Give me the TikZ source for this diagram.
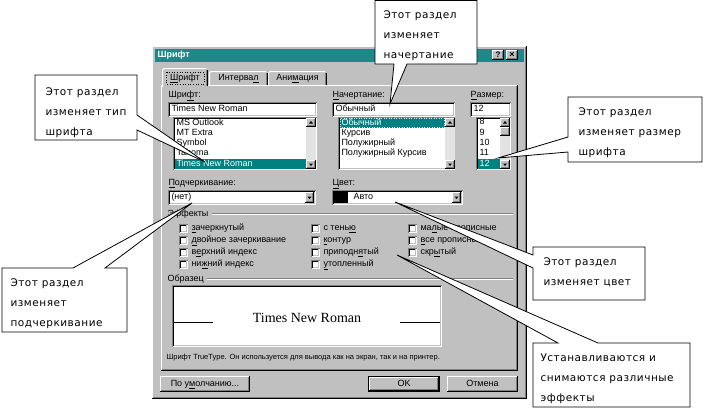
\documentclass[tikz,border=0pt]{standalone}
\usepackage{fontspec}
\setmainfont{Liberation Sans}
\newfontfamily\callfont[LetterSpace=5]{DejaVu Sans}
\newfontfamily\prevfont{Liberation Serif}
\definecolor{dlg}{RGB}{192,192,192}
\definecolor{dkg}{RGB}{128,128,128}
\definecolor{teal1}{RGB}{0,128,128}
\definecolor{titleteal}{RGB}{30,136,136}
\definecolor{track}{RGB}{226,226,226}
\newcommand{\mnem}[1]{\underline{#1}}
\newcommand{\raisedbox}[4]{%
 \fill[dlg] ({#1},{#2}) rectangle ({#3},{#4});
 \draw[white] ({#1+.5},{#4-1}) -- ({#1+.5},{#2+.5}) -- ({#3-1},{#2+.5});
 \draw[black] ({#1},{#4-.5}) -- ({#3-.5},{#4-.5}) -- ({#3-.5},{#2});
 \draw[dkg] ({#1+1},{#4-1.5}) -- ({#3-1.5},{#4-1.5}) -- ({#3-1.5},{#2+1});
}
\newcommand{\sunkbox}[4]{%
 \fill[white] ({#1},{#2}) rectangle ({#3},{#4});
 \draw[dkg] ({#1+.5},{#4}) -- ({#1+.5},{#2+.5}) -- ({#3},{#2+.5});
 \draw[black] ({#1+1.5},{#4-1}) -- ({#1+1.5},{#2+1.5}) -- ({#3-1},{#2+1.5});
 \draw[dlg] ({#1+1.5},{#4-1.5}) -- ({#3-1.5},{#4-1.5}) -- ({#3-1.5},{#2+1.5});
}
\newcommand{\arrowbtn}[5]{%
 \raisedbox{#1}{#2}{#3}{#4}
 \fill[black] ({(#1+#3)/2-2},{(#2+#4)/2-(#5)*1}) -- ({(#1+#3)/2+2},{(#2+#4)/2-(#5)*1}) -- ({(#1+#3)/2},{(#2+#4)/2+(#5)*1.5}) -- cycle;
}
\newcommand{\chk}[4]{%
 \sunkbox{#1}{#2-4.5}{#1+9}{#2+4.5}
 \node[lbl] (#3) at ({#1+12},{#2}) {#4};
}
\begin{document}
\begin{tikzpicture}[x=1pt,y=-1pt,line width=1pt,
 lbl/.style={font=\fontsize{9}{10}\selectfont, inner sep=0pt, anchor=west, text height=6.5pt, text depth=1.8pt},
 sel/.style={lbl,text=white},
 ctr/.style={lbl,anchor=center},
 small/.style={font=\fontsize{7.5}{9}\selectfont, inner sep=0pt, anchor=west},
 calltext/.style={font=\callfont\fontsize{10.5}{20}\selectfont, align=left, inner sep=0pt, anchor=north west},
 callout/.style={fill=white, draw=black, line width=0.8pt, line join=miter},
]
\useasboundingbox (0,0) rectangle (703,408);
\fill[white] (0,0) rectangle (703,408);

% ---------- dialog window ----------
\raisedbox{152}{46}{527}{399}
\fill[titleteal] (155,49) rectangle (524,62);
\node[lbl,text=white,font=\bfseries\fontsize{9}{10}\selectfont] (title) at (157,55.5) {Шрифт};
\raisedbox{492}{50}{504}{60}
\node[ctr,font=\bfseries\fontsize{8}{9}\selectfont] (qmark) at (498,55.5) {?};
\raisedbox{506}{50}{518}{60}
\node[ctr,font=\bfseries\fontsize{9}{9}\selectfont] (xmark) at (512,55.5) {×};

% ---------- tab panel ----------
\raisedbox{161}{85}{518}{371}
% tab 2
\fill[dlg] (209,71) rectangle (268,85);
\draw[white] (209.5,85) -- (209.5,73) -- (211,71.5) -- (266,71.5);
\draw[black] (267.5,73) -- (267.5,85);
\draw[dkg] (266.5,73) -- (266.5,85);
% tab 3
\fill[dlg] (268,71) rectangle (327,85);
\draw[white] (268.5,85) -- (268.5,73) -- (270,71.5) -- (325,71.5);
\draw[black] (326.5,73) -- (326.5,85);
\draw[dkg] (325.5,73) -- (325.5,85);
% tab 1 (active)
\fill[dlg] (162,68) rectangle (208,87);
\draw[white] (162.5,87) -- (162.5,70) -- (164,68.5) -- (206,68.5);
\draw[black] (207.5,70) -- (207.5,86);
\draw[dkg] (206.5,70) -- (206.5,86);
\draw[dotted,line width=0.6pt] (166,72) rectangle (204,84);
\node[ctr] (tab1) at (185,78) {\mnem{Ш}рифт};
\node[ctr] (tab2) at (238.5,78.5) {Интерва\mnem{л}};
\node[ctr] (tab3) at (297.5,78.5) {Ани\mnem{м}ация};

% ---------- font / style / size ----------
\node[lbl] (lfont) at (168,95) {Шри\mnem{ф}т:};
\node[lbl] (lstyle) at (332,95) {\mnem{Н}ачертание:};
\node[lbl] (lsize) at (470,95) {\mnem{Р}азмер:};

\sunkbox{168}{102}{317}{117}
\node[lbl] (tfont) at (171,109.5) {Times New Roman};
\sunkbox{332}{102}{455}{117}
\node[lbl] (tstyle) at (335,109.5) {Обычный};
\sunkbox{470}{102}{511}{117}
\node[lbl] (tsize) at (473,109.5) {12};

% font list
\sunkbox{173}{117}{317}{170}
\fill[track] (306,118) rectangle (316,169);
\arrowbtn{306}{118}{316}{127}{-1}
\arrowbtn{306}{160}{316}{169}{1}
\fill[teal1] (175,159) rectangle (306,169);
\node[lbl] (f1) at (176,123) {MS Outlook};
\node[lbl] (f2) at (176,133.5) {MT Extra};
\node[lbl] (f3) at (176,143.5) {Symbol};
\node[lbl] (f4) at (176,153.5) {Tahoma};
\node[sel] (f5) at (176,164) {Times New Roman};

% style list
\sunkbox{338}{117}{455}{170}
\fill[track] (445,118) rectangle (455,169);
\arrowbtn{445}{118}{455}{127}{-1}
\arrowbtn{445}{160}{455}{169}{1}
\fill[teal1] (340,118) rectangle (445,128);
\draw[dotted,white,line width=0.5pt] (340.5,118.5) rectangle (444.5,127.5);
\node[sel] (s1) at (341,123) {Обычный};
\node[lbl] (s2) at (341,133.5) {Курсив};
\node[lbl] (s3) at (341,143.5) {Полужирный};
\node[lbl] (s4) at (341,153.5) {Полужирный Курсив};

% size list
\sunkbox{476}{117}{511}{170}
\fill[track] (500,118) rectangle (510,169);
\arrowbtn{500}{118}{510}{127}{-1}
\raisedbox{500}{127}{510}{136}
\arrowbtn{500}{160}{510}{169}{1}
\fill[teal1] (478,159) rectangle (500,169);
\node[lbl] (z1) at (479,122.5) {8};
\node[lbl] (z2) at (479,133.5) {9};
\node[lbl] (z3) at (479,143.5) {10};
\node[lbl] (z4) at (479,153.5) {11};
\node[sel] (z5) at (479,164) {12};

% ---------- underline / colour ----------
\node[lbl] (lund) at (168,183) {\mnem{П}одчеркивание:};
\node[lbl] (lcol) at (332,183) {\mnem{Ц}вет:};
\sunkbox{168}{190}{316}{205}
\node[lbl] (tund) at (171,197.5) {(нет)};
\arrowbtn{305}{192}{314}{203}{1}
\sunkbox{332}{190}{463}{205}
\fill[black] (334,192) rectangle (348,203);
\node[lbl] (tcol) at (353,197.5) {Авто};
\arrowbtn{452}{192}{461}{203}{1}

% ---------- effects ----------
\node[lbl] (leff) at (167,214) {Эффекты};
\draw[dkg] (212,213.5) -- (513,213.5);
\draw[white] (212,214.5) -- (513,214.5);
\chk{179}{228}{e1}{\mnem{з}ачеркнутый}
\chk{179}{240}{e2}{\mnem{д}войное зачеркивание}
\chk{179}{252}{e3}{в\mnem{е}рхний индекс}
\chk{179}{264}{e4}{ни\mnem{ж}ний индекс}
\chk{311}{228}{e5}{с тень\mnem{ю}}
\chk{311}{240}{e6}{\mnem{к}онтур}
\chk{311}{252}{e7}{приподн\mnem{я}тый}
\chk{311}{264}{e8}{\mnem{у}топленный}
\chk{408}{228}{e9}{ма\mnem{л}ые прописные}
\chk{408}{240}{e10}{\mnem{в}се прописные}
\chk{408}{252}{e11}{скр\mnem{ы}тый}

% ---------- sample ----------
\node[lbl] (lsam) at (167,279) {Образец};
\draw[dkg] (207,278.5) -- (513,278.5);
\draw[white] (207,279.5) -- (513,279.5);
\sunkbox{172}{285}{442}{347}
\node[font=\prevfont\fontsize{14}{16}\selectfont, inner sep=0pt, anchor=base] (sample) at (307,322) {Times New Roman};
\draw[black] (174,322) -- (213,322);
\draw[black] (400,322) -- (440,322);
\node[small] (foot) at (166,358) {Шрифт TrueType. Он используется для вывода как на экран, так и на принтер.};

% ---------- buttons ----------
\raisedbox{160}{376}{250}{392}
\node[ctr] (bdef) at (205,384) {По у\mnem{м}олчанию...};
\draw[black] (368.5,376.5) rectangle (439.5,391.5);
\raisedbox{369}{377}{439}{391}
\node[ctr] (bok) at (404,384) {OK};
\raisedbox{447}{376}{518}{392}
\node[ctr] (bcancel) at (482.5,384) {Отмена};

% ---------- callouts ----------
\coordinate (tip1) at (390,104);
\coordinate (tip2) at (205,162);
\coordinate (tip3) at (192,203);
\coordinate (tip4) at (498,158);
\coordinate (tip5) at (395,202);
\coordinate (tip6) at (397,255);

\draw[callout] (375,0.5) -- (477,0.5) -- (477,64) -- (407,64) -- (tip1) -- (394,64) -- (375,64) -- cycle;
\node[calltext] (c1) at (383,10) {Этот раздел\\изменяет\\начертание};

\draw[callout] (35,75) -- (137,75) -- (137,115) -- (tip2) -- (137,130) -- (137,140) -- (35,140) -- cycle;
\node[calltext] (c2) at (45,87) {Этот раздел\\изменяет тип\\шрифта};

\draw[callout] (2,268) -- (73,268) -- (tip3) -- (105,268) -- (127,268) -- (127,332) -- (2,332) -- cycle;
\node[calltext] (c3) at (10,278) {Этот раздел\\изменяет\\подчеркивание};

\draw[callout] (568,97) -- (702,97) -- (702,162) -- (568,162) -- (568,152) -- (tip4) -- (568,137) -- cycle;
\node[calltext] (c4) at (578,107) {Этот раздел\\изменяет размер\\шрифта};

\draw[callout] (533,247) -- (645,247) -- (645,300) -- (533,300) -- (533,268) -- (tip5) -- (533,255) -- cycle;
\node[calltext] (c5) at (543,257) {Этот раздел\\изменяет цвет};

\draw[callout] (533,343) -- (558,343) -- (tip6) -- (598,343) -- (690,343) -- (690,407) -- (533,407) -- cycle;
\node[calltext] (c6) at (540,353) {Устанавливаются и\\снимаются различные\\эффекты};
\end{tikzpicture}
\end{document}
